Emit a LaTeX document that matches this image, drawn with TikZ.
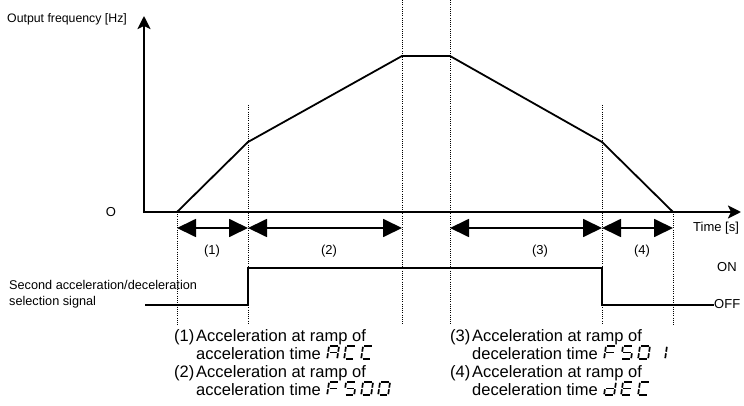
\documentclass[tikz,border=0pt]{standalone}
\usepackage{fontspec}
\setmainfont{Liberation Sans}
\usetikzlibrary{arrows.meta,calc}
\tikzset{
  axisline/.style={line width=2.4pt, -{Stealth[length=13pt,width=13pt,inset=3pt]}},
  rampline/.style={line width=1.8pt, line join=miter},
  guide/.style={line width=1pt, dash pattern=on 1pt off 1.2pt},
  spanline/.style={line width=1.8pt, {Triangle[length=19pt,width=18pt]}-{Triangle[length=19pt,width=18pt]}},
  sigline/.style={line width=1.8pt},
  lbl/.style={font=\fontsize{13}{16}\selectfont, inner sep=0pt},
  note/.style={font=\fontsize{16.5}{19}\selectfont, inner sep=0pt, anchor=base west},
  segline/.style={line width=1.7pt, line cap=butt},
}
\newcommand\segA{\draw[segline] (1.4,13)--(8.6,13);}
\newcommand\segB{\draw[segline] (10,12.2)--(10,7.3);}
\newcommand\segC{\draw[segline] (10,5.7)--(10,0.8);}
\newcommand\segD{\draw[segline] (1.4,0)--(8.6,0);}
\newcommand\segE{\draw[segline] (0,5.7)--(0,0.8);}
\newcommand\segF{\draw[segline] (0,12.2)--(0,7.3);}
\newcommand\segG{\draw[segline] (1.4,6.5)--(8.6,6.5);}
\newcommand\chA{\segA\segB\segC\segE\segF\segG}
\newcommand\chC{\segA\segD\segE\segF}
\newcommand\chF{\segA\segE\segF\segG}
\newcommand\chFive{\segA\segF\segG\segC\segD}
\newcommand\chZero{\segA\segB\segC\segD\segE\segF}
\newcommand\chOne{\segB\segC}
\newcommand\chd{\segB\segC\segD\segE\segG}
\newcommand\chE{\segA\segD\segE\segF\segG}
\newcommand\sevenseg[2]{%
  \foreach \gch [count=\gi from 0] in {#2}{%
    \begin{scope}[shift={(#1.base east)}, xshift={6pt+\gi*17pt}, x=1pt, y=1pt, xslant=0.15]
      \gch
    \end{scope}}}
\begin{document}
\begin{tikzpicture}[x=1pt,y=-1pt]
\useasboundingbox (0,0) rectangle (744,406);
% key points
\coordinate (orig) at (144,212);
\coordinate (ytop) at (144,16);
\coordinate (xend) at (741,212);
\coordinate (p0) at (177,212);
\coordinate (p1) at (248,142);
\coordinate (p2) at (402,56);
\coordinate (p3) at (450,56);
\coordinate (p4) at (602,142);
\coordinate (p5) at (673,212);
% dotted guides
\coordinate (g0t) at (177,212); \coordinate (g0b) at (177,325);
\coordinate (g1t) at (248,105); \coordinate (g1b) at (248,325);
\coordinate (g2t) at (402,0);   \coordinate (g2b) at (402,325);
\coordinate (g3t) at (450,0);   \coordinate (g3b) at (450,325);
\coordinate (g4t) at (602,105); \coordinate (g4b) at (602,325);
\coordinate (g5t) at (673,212); \coordinate (g5b) at (673,325);
\foreach \k in {0,...,5} {\draw[guide] (g\k t) -- (g\k b);}
% axes
\draw[axisline] ([yshift=-1.2pt]orig) -- (ytop);
\draw[axisline] ([xshift=-1.2pt]orig) -- (xend);
% ramp
\draw[rampline] (p0) -- (p1) -- (p2) -- (p3) -- (p4) -- (p5);
% spans
\coordinate (s0) at (177,228);
\coordinate (s1) at (248,228);
\coordinate (s2) at (402,228);
\coordinate (s3) at (450,228);
\coordinate (s4) at (602,228);
\coordinate (s5) at (673,228);
\draw[spanline] (s0) -- (s1);
\draw[spanline] (s1) -- (s2);
\draw[spanline] (s3) -- (s4);
\draw[spanline] (s4) -- (s5);
\node[lbl] (l1) at (212,251) {(1)};
\node[lbl] (l2) at (329,251) {(2)};
\node[lbl] (l3) at (540,251) {(3)};
\node[lbl] (l4) at (642,251) {(4)};
% axis labels
\node[lbl, anchor=west, font=\fontsize{12.3}{15}\selectfont] (ylab) at (7,19) {Output frequency [Hz]};
\node[lbl] (zero) at (111,212) {O};
\node[lbl, anchor=west] (xlab) at (693,228) {Time [s]};
% signal
\node[lbl, anchor=west] (on) at (717,267) {ON};
\node[lbl, anchor=west] (off) at (714,304) {OFF};
\node[lbl, anchor=west, align=left, font=\fontsize{12.7}{16}\selectfont] (siglab) at (9,294) {Second acceleration/deceleration\\selection signal};
\coordinate (q0) at (145,305);
\coordinate (q1) at (248,305);
\coordinate (q2) at (248,268);
\coordinate (q3) at (602,268);
\coordinate (q4) at (602,305);
\draw[sigline] (q0) -- (q1) -- (q2) -- (q3) -- (q4) -- (off.west |- q4);
% notes
\node[note] (n1) at (174,341) {(1)};
\node[note] (n1a) at (196,341) {Acceleration at ramp of};
\node[note] (n1b) at (196,359) {acceleration time};
\node[note] (n2) at (174,377) {(2)};
\node[note] (n2a) at (196,377) {Acceleration at ramp of};
\node[note] (n2b) at (196,395) {acceleration time};
\node[note] (n3) at (450,341) {(3)};
\node[note] (n3a) at (472,341) {Acceleration at ramp of};
\node[note] (n3b) at (472,359) {deceleration time};
\node[note] (n4) at (450,377) {(4)};
\node[note] (n4a) at (472,377) {Acceleration at ramp of};
\node[note] (n4b) at (472,395) {deceleration time};
\sevenseg{n1b}{\chA,\chC,\chC}
\sevenseg{n2b}{\chF,\chFive,\chZero,\chZero}
\sevenseg{n3b}{\chF,\chFive,\chZero,\chOne}
\sevenseg{n4b}{\chd,\chE,\chC}
\end{tikzpicture}
\end{document}
